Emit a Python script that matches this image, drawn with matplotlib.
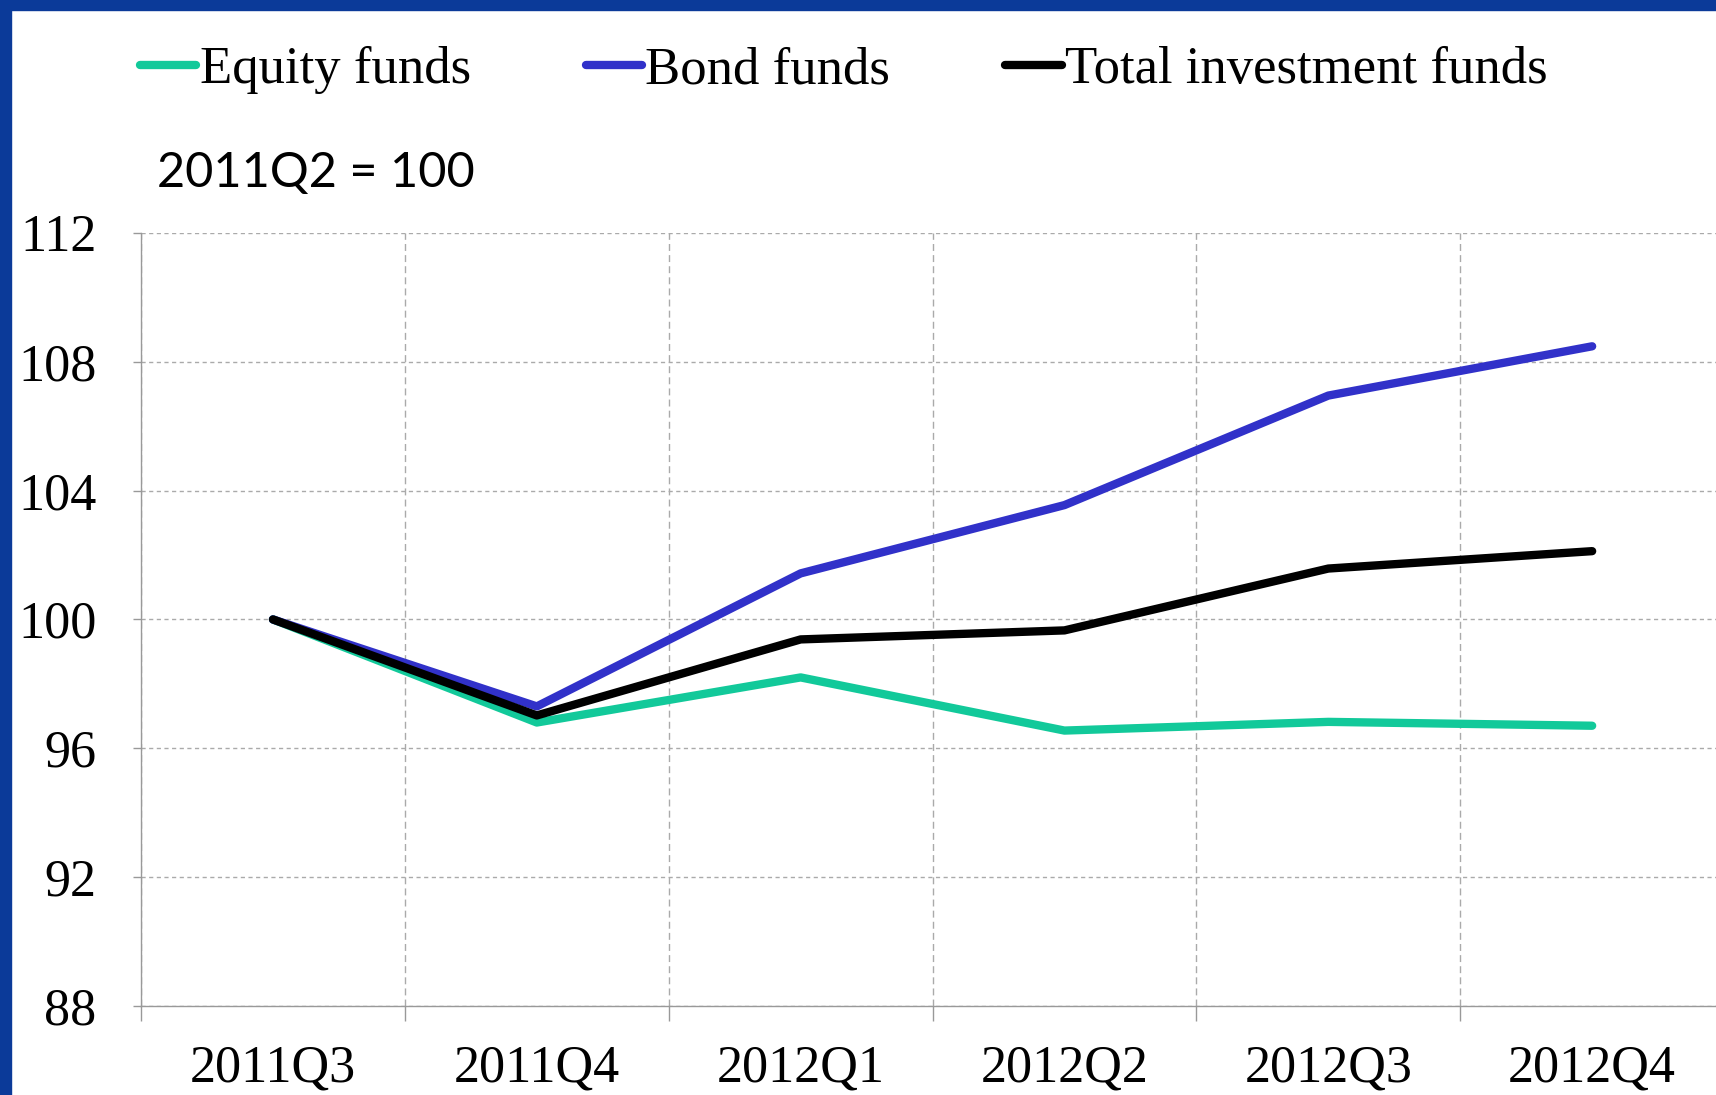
import matplotlib
matplotlib.use("Agg")
import matplotlib.pyplot as plt
from matplotlib.patches import Rectangle
import numpy as np

quarters = ["2011Q3", "2011Q4", "2012Q1", "2012Q2", "2012Q3", "2012Q4"]
equity = [100.0, 96.8, 98.2, 96.55, 96.82, 96.7]
bond = [100.0, 97.3, 101.43, 103.55, 106.95, 108.48]
total = [100.0, 97.02, 99.38, 99.66, 101.58, 102.12]
yticks = [88, 92, 96, 100, 104, 108, 112]

plt.rcParams["font.family"] = ["Liberation Serif", "DejaVu Serif"]

fig = plt.figure(figsize=(17.16, 10.95), dpi=100)
ax = fig.add_axes([0.0822, 0.0813, 0.9225, 0.706])

x = np.arange(len(quarters))
ax.plot(x, equity, color="#12C99A", lw=6, solid_capstyle="round", label="Equity funds", zorder=3)
ax.plot(x, bond, color="#3131C9", lw=6, solid_capstyle="round", label="Bond funds", zorder=4)
ax.plot(x, total, color="black", lw=6, solid_capstyle="round", label="Total investment funds", zorder=5)

ax.set_xlim(-0.5, len(quarters) - 0.5)
ax.set_ylim(88, 112)
ax.set_yticks(yticks)
ax.set_xticks(np.arange(len(quarters) + 1) - 0.5)
ax.set_xticklabels([])
ax.set_xticks(x, minor=True)
ax.set_xticklabels(quarters, minor=True)

ax.tick_params(axis="x", which="major", length=11, color="#999999", width=1)
ax.tick_params(axis="x", which="minor", length=0, pad=28, labelsize=37.5)
ax.tick_params(axis="y", length=6, color="#999999", width=1, pad=26, labelsize=37.5)

ax.grid(axis="y", color="#aaaaaa", lw=1, ls=(0, (3, 2.5)))
ax.grid(axis="x", which="major", color="#aaaaaa", lw=1, ls=(0, (5, 3)))
for s in ["top", "right"]:
    ax.spines[s].set_visible(False)
for s in ["left", "bottom"]:
    ax.spines[s].set_color("#999999")
    ax.spines[s].set_linewidth(1)

fig.legend(loc="center left", bbox_to_anchor=(0.0816, 0.936), ncol=3, frameon=False,
           fontsize=38, handlelength=1.07, handletextpad=0.06, columnspacing=2.18,
           borderpad=0, borderaxespad=0)

fig.text(0.0915, 0.842, "2011Q2 = 100", family=["Lato", "DejaVu Sans"], fontsize=35, va="center")

# blue slide frame on the left and top
fig.patches.append(Rectangle((0, 1 - 10 / 1095), 1, 10 / 1095, transform=fig.transFigure,
                             color="#0b3a99", zorder=10))
fig.patches.append(Rectangle((0, 0), 11 / 1716, 1, transform=fig.transFigure,
                             color="#0b3a99", zorder=10))

fig.savefig("out.png", dpi=100)
